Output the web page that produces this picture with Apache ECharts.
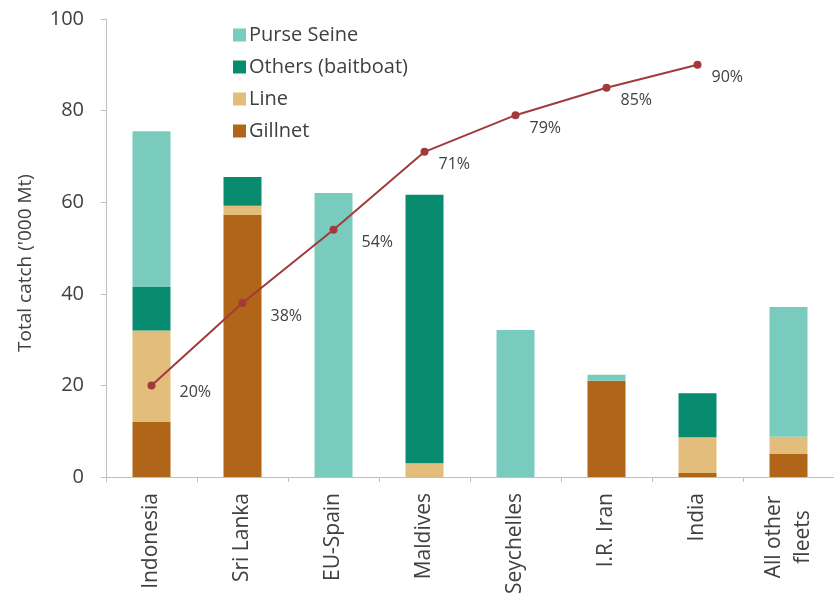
<!DOCTYPE html>
<html><head><meta charset="utf-8">
<script src="https://cdn.jsdelivr.net/npm/echarts@6/dist/echarts.min.js"></script>
<style>html,body{margin:0;padding:0;background:#fff}#c{width:834px;height:598px}</style>
</head><body><div id="c"></div>
<script>
const categories = ['Indonesia','Sri Lanka','EU-Spain','Maldives','Seychelles','I.R. Iran','India','All other\nfleets'];
const gillnet  = [12, 57.2, 0, 0, 0, 21, 0.9, 5];
const line     = [20, 2, 0, 3, 0, 0, 7.8, 3.8];
const others   = [9.5, 6.3, 0, 58.6, 0, 0, 9.6, 0];
const purse    = [34, 0, 62, 0, 32.1, 1.3, 0, 28.3];
const cumPct   = [20, 38, 54, 71, 79, 85, 90];
const yTicks   = [0, 20, 40, 60, 80, 100];

const FONT = 'Open Sans';
const TXT = '#404040';
const chart = echarts.init(document.getElementById('c'), null, {renderer:'canvas'});
function bar(name, data, color){
  return {name, type:'bar', stack:'t', data, barWidth:38, itemStyle:{color}, z:2};
}
chart.setOption({
  animation:false,
  grid:{left:106, top:19, width:736, bottom:121, containLabel:false},
  legend:{
    orient:'vertical', left:228, top:20, itemGap:12, itemWidth:13, itemHeight:13,
    icon:'rect',
    textStyle:{fontFamily:FONT, fontSize:20, color:TXT, padding:[0,0,0,-2]},
    data:['Purse Seine','Others (baitboat)','Line','Gillnet']
  },
  xAxis:{
    type:'category', data:categories,
    axisLine:{lineStyle:{color:'#bfbfbf'}},
    axisTick:{show:true, alignWithLabel:false, length:5, lineStyle:{color:'#bfbfbf'}},
    axisLabel:{rotate:90, fontFamily:FONT, fontSize:21, color:TXT, margin:16, lineHeight:29, align:'right',
      formatter: v => v.indexOf('\n') >= 0 ? v.split('\n').map(s => '{c|' + s + '}').join('\n') : v,
      rich:{c:{align:'center', width:88, fontFamily:FONT, fontSize:21, color:TXT, lineHeight:29}}
    }
  },
  yAxis:{
    type:'value', min:yTicks[0], max:yTicks[yTicks.length-1], interval:20,
    name:"Total catch ('000 Mt)", nameLocation:'middle', nameGap:71,
    nameTextStyle:{fontFamily:FONT, fontSize:19, color:TXT, padding:[0,30,0,0]},
    axisLine:{show:true, lineStyle:{color:'#bfbfbf'}},
    axisTick:{show:true, length:5, lineStyle:{color:'#bfbfbf'}},
    splitLine:{show:false},
    axisLabel:{fontFamily:FONT, fontSize:20, color:TXT, margin:22}
  },
  series:[
    bar('Gillnet', gillnet, '#b06518'),
    bar('Line', line, '#e2bd7c'),
    bar('Others (baitboat)', others, '#088b6e'),
    bar('Purse Seine', purse, '#79cbbd'),
    {
      name:'Cumulative', type:'line', z:5,
      data: cumPct.map((v,i)=>({value:v, label:{offset: i<3 ? [18,7+(i>0?6:0)] : [4,13]}})),
      symbol:'circle', symbolSize:8,
      lineStyle:{color:'#a23a3c', width:2},
      itemStyle:{color:'#a23a3c'},
      label:{show:true, position:'right', distance:6, formatter:'{c}%',
        fontFamily:FONT, fontSize:16, color:TXT}
    }
  ]
});
</script></body></html>
